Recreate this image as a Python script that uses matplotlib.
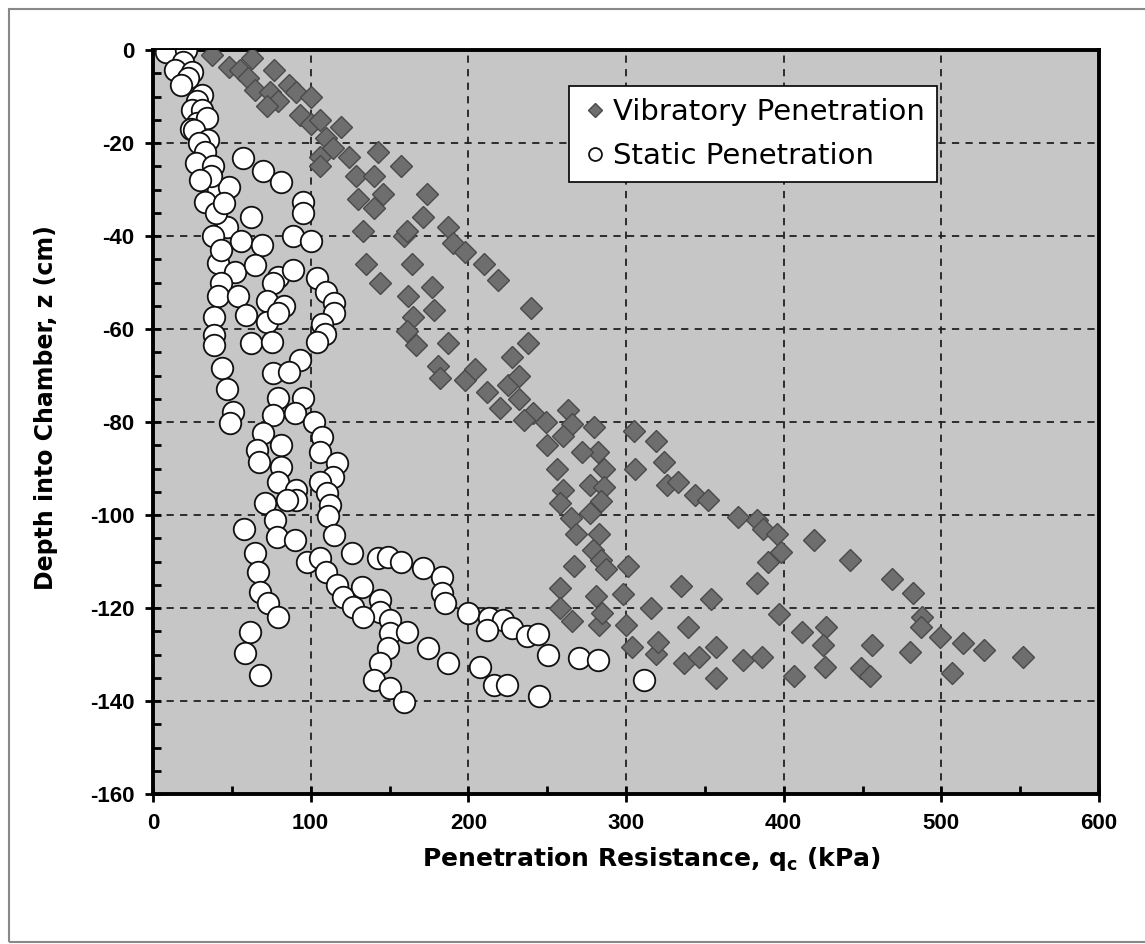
import matplotlib
matplotlib.use("Agg")
import matplotlib.pyplot as plt
from matplotlib.patches import Rectangle
from matplotlib.ticker import MultipleLocator

# ---------------- data ----------------
vib_x = [37.5, 48, 63, 55, 60, 77, 65, 74, 79, 72, 86, 91, 100, 93, 100, 106, 110, 119, 114, 106,
         106, 124, 129, 140, 143, 157, 130, 140, 146, 174, 171, 133, 159, 161, 187, 190, 135, 164,
         198, 210, 219, 144, 177, 162, 178, 240, 165, 161, 187, 238, 167, 228, 181, 182, 198, 204,
         212, 220, 225, 232, 232, 241, 235, 249, 263, 266, 260, 250, 280, 305, 319, 282, 272, 256,
         286, 306, 324, 260, 277, 286, 258, 284, 326, 333, 344, 352, 265, 277, 283, 268, 371, 383,
         387, 396, 398, 390, 279, 284, 267, 301, 287, 258, 281, 298, 258, 266, 283, 285, 300, 316,
         335, 354, 339.5, 304, 319, 320, 337, 346, 357, 357, 374, 386, 419, 383, 442, 397, 411.5,
         427, 425, 426, 406.6, 456, 449, 455, 469, 482, 488, 487, 499, 514, 527, 480, 507, 552]
vib_z = [-1.1, -3.6, -1.8, -4.3, -6, -4.3, -8.6, -9, -11, -12, -7.5, -9, -10, -14, -16, -15, -19,
         -16.5, -21, -23, -25, -23, -27, -27, -22, -25, -32, -34, -31, -31, -36, -39, -40, -39, -38,
         -41.5, -46, -46, -43.5, -46, -49.5, -50, -51, -53, -56, -55.5, -57.5, -60.5, -63, -63,
         -63.5, -66, -68, -70.5, -71, -68.5, -73.5, -77, -72, -70, -75, -78, -79.5, -80, -77.5,
         -80.5, -83, -85, -81, -82, -84, -86.5, -86.5, -90, -90, -90, -88.6, -94.6, -93.5, -94,
         -97.5, -97, -93.5, -93, -95.7, -96.8, -100.6, -99.6, -104, -104, -100.4, -101, -103,
         -104, -108, -110, -107.5, -109.7, -111, -111, -111.7, -115.6, -117.4, -117, -119.9,
         -122.7, -123.7, -121, -123.7, -120, -115.3, -118, -124, -128.3, -129.8, -127.3, -131.9,
         -130.5, -128.3, -135, -131.2, -130.5, -105.4, -114.6, -109.6, -121.3, -125.2, -124, -128,
         -132.6, -134.7, -128, -133, -134.7, -113.8, -116.7, -122, -124, -126.2, -127.6, -129,
         -129.4, -134, -130.5]

sta_x = [8, 21, 19, 14, 25, 22, 18, 31, 28, 25, 31, 28, 34, 24, 26, 35, 29, 33, 27, 38, 57, 70, 41,
         33, 48, 81, 95, 95, 47, 62, 56, 69, 89, 100, 41, 52, 65, 79, 104, 89, 43, 76, 41, 54, 72,
         83, 110, 114.5, 114.5, 39, 59, 72, 79, 107, 109, 39, 39, 62, 75.5, 104, 93, 44, 76, 86, 47,
         79, 95, 51, 76, 90, 49, 102, 70, 81, 107, 66, 67, 81, 106, 117, 114, 106, 79, 91, 110.5,
         91, 71, 85, 112, 111, 77.5, 58, 78.5, 90, 114.5, 64.8, 97.6, 106, 126, 143, 149, 157, 66.7,
         110, 117, 132.7, 171, 183.5, 68, 120.6, 144, 183.5, 73, 185.4, 127, 144, 200, 79.4, 133,
         150.5, 213, 222, 212, 228, 237, 244, 61.6, 150.5, 161, 149, 174.6, 58.4, 144, 187, 207.6,
         140, 68, 150.5, 216, 224.7, 159, 244.6, 250.5, 270, 282, 311.5,
         40, 38, 43, 37, 30, 45]
sta_z = [-0.5, 0, -2.5, -4.3, -4.7, -6, -7.5, -9.7, -11, -13, -13, -15.7, -14.7, -17, -17.2, -19.4,
         -20, -22, -24.4, -25, -23.3, -26, -30, -32.7, -29.5, -28.3, -32.7, -35, -38, -36, -41, -42,
         -40, -41, -45.8, -47.7, -46.2, -48.8, -49, -47.3, -50, -50, -53, -53, -54, -55, -52, -54.5,
         -56.6, -57.4, -57, -58.4, -56.6, -59, -61, -61.3, -63.4, -63, -62.8, -62.8, -66.7, -68.4,
         -69.5, -69.2, -73, -74.8, -74.8, -77.8, -78.5, -78, -80.2, -80, -82.4, -85, -83.2, -86,
         -88.6, -89.7, -86.5, -88.8, -91.8, -92.9, -93, -94.6, -95.3, -96.8, -97.5, -96.8, -97.8,
         -100.3, -101, -103, -104.7, -105.4, -104.3, -108.2, -110, -109.3, -108.2, -109.3, -109,
         -110, -112.2, -112.2, -115, -115.4, -111.5, -113.3, -116.5, -117.6, -118.3, -116.8, -119,
         -119, -119.8, -120.8, -121.1, -122, -121.9, -122.6, -122.2, -122.6, -124.7, -124.4, -126,
         -125.5, -125.2, -125.4, -125.2, -128.6, -128.6, -129.7, -131.8, -131.8, -132.6, -135.5,
         -134.4, -137.2, -136.6, -136.6, -140.2, -139, -130.1, -130.8, -131.2, -135.4,
         -35, -40, -43, -27, -28, -33]

x_ticks = [0, 100, 200, 300, 400, 500, 600]
y_ticks = [0, -20, -40, -60, -80, -100, -120, -140, -160]

# ---------------- figure ----------------
plt.rcParams['font.family'] = ['Liberation Sans', 'DejaVu Sans']
plt.rcParams['axes.unicode_minus'] = False
fig = plt.figure(figsize=(11.45, 9.44), dpi=100)
fig.patch.set_facecolor('white')

# outer frame
fig.patches.append(Rectangle((9 / 1145, 2 / 944), 1.1, 933 / 944, transform=fig.transFigure,
                             fill=False, edgecolor='#888888', linewidth=1.5))

ax = fig.add_axes([153 / 1145, 150 / 944, 946 / 1145, 744 / 944])
ax.set_facecolor('#c6c6c6')

ax.plot(vib_x, vib_z, linestyle='none', marker='D', markersize=11.2,
        markerfacecolor='#6e6e6e', markeredgecolor='#4a4a4a', markeredgewidth=1.0,
        label='Vibratory Penetration', zorder=3)
ax.plot(sta_x, sta_z, linestyle='none', marker='o', markersize=15.5,
        markerfacecolor='white', markeredgecolor='#111111', markeredgewidth=1.3,
        label='Static Penetration', zorder=4)

ax.set_xlim(0, 600)
ax.set_ylim(-160, 0)
ax.set_xticks(x_ticks)
ax.set_yticks(y_ticks)
ax.xaxis.set_minor_locator(MultipleLocator(50))
ax.yaxis.set_minor_locator(MultipleLocator(5))

ax.grid(True, which='major', color='#202020', linestyle=(0, (4, 3.5)), linewidth=1.3, zorder=1)
ax.set_axisbelow(True)

for s in ax.spines.values():
    s.set_linewidth(2.8)
    s.set_color('black')

ax.tick_params(which='major', direction='inout', length=11, width=2, pad=8,
               labelsize=16)
ax.tick_params(which='minor', direction='in', length=6, width=2)
for lab in ax.get_xticklabels() + ax.get_yticklabels():
    lab.set_fontweight('bold')

label_font = ['DejaVu Sans']
ax.set_xlabel(r'Penetration Resistance, q$_{\mathregular{c}}$ (kPa)', fontsize=18,
              fontweight='bold', family=label_font)
ax.set_ylabel('Depth into Chamber, z (cm)', fontsize=17, fontweight='bold',
              family=label_font)
ax.xaxis.set_label_coords(0.527, -0.068)
ax.yaxis.set_label_coords(-0.100, 0.52)

leg = ax.legend(loc='upper left', bbox_to_anchor=(0.44, 0.951),
                prop={'family': 'DejaVu Sans', 'size': 21},
                frameon=True, fancybox=False, edgecolor='black', framealpha=1,
                handletextpad=0.1, handlelength=1.0, borderpad=0.4, labelspacing=0.55,
                markerscale=0.6, borderaxespad=0)
leg.get_frame().set_linewidth(1.2)

fig.savefig('out.png', dpi=100)
